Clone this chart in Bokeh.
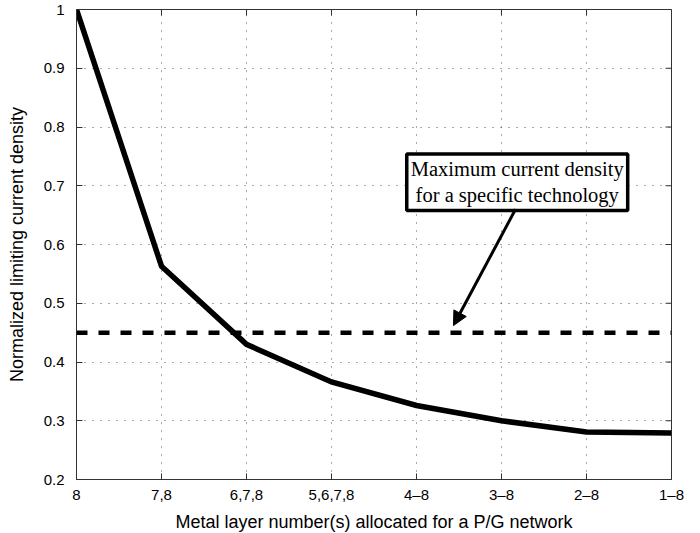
import math
from bokeh.plotting import figure
from bokeh.models import (Range1d, FixedTicker, Span, Label, Arrow, NormalHead,
                          ColumnDataSource)
from bokeh.embed import file_html
from bokeh.resources import INLINE

# Metal layer allocations (x categories) and normalized limiting current density
layer_labels = ["8", "7,8", "6,7,8", "5,6,7,8", "4\u20138", "3\u20138", "2\u20138", "1\u20138"]
density = [1.0, 0.563, 0.430, 0.366, 0.326, 0.300, 0.281, 0.279]
max_density = 0.45
y_ticks = [0.2, 0.3, 0.4, 0.5, 0.6, 0.7, 0.8, 0.9, 1.0]
y_tick_labels = ["0.2", "0.3", "0.4", "0.5", "0.6", "0.7", "0.8", "0.9", "1"]

positions = list(range(len(layer_labels)))
y_lo, y_hi = y_ticks[0], y_ticks[-1]
src = ColumnDataSource(dict(x=positions, y=density))

p = figure(width=700, height=533, output_backend="svg", toolbar_location=None,
           x_range=Range1d(positions[0], positions[-1]), y_range=Range1d(y_lo, y_hi),
           frame_width=595, frame_height=470,
           min_border_left=76, min_border_right=29, min_border_top=9, min_border_bottom=54)

p.outline_line_color = "#333333"
p.outline_line_width = 1
p.background_fill_color = "white"
p.border_fill_color = "white"

sans = "Liberation Sans"

p.xaxis.ticker = FixedTicker(ticks=positions)
p.xaxis.major_label_overrides = {i: lab for i, lab in zip(positions, layer_labels)}
p.yaxis.ticker = FixedTicker(ticks=y_ticks)
p.yaxis.major_label_overrides = {t: lab for t, lab in zip(y_ticks, y_tick_labels)}

p.xaxis.axis_label = "Metal layer number(s) allocated for a P/G network"
p.yaxis.axis_label = "Normalized limiting current density"

for ax in (p.xaxis, p.yaxis):
    ax.axis_line_color = "#333333"
    ax.major_tick_in = 6
    ax.major_tick_out = 0
    ax.minor_tick_line_color = None
    ax.major_tick_line_color = "#333333"
    ax.major_label_text_font = sans
    ax.major_label_text_font_size = "15px"
    ax.major_label_text_color = "black"
    ax.axis_label_text_font = sans
    ax.axis_label_text_font_size = "18px"
    ax.axis_label_text_font_style = "normal"
    ax.axis_label_text_color = "black"

p.xaxis.major_label_standoff = 6
p.xaxis.axis_label_standoff = 6
p.yaxis.major_label_standoff = 12
p.yaxis.axis_label_standoff = 14

# dotted grid
for g in (p.xgrid, p.ygrid):
    g.grid_line_color = "#555555"
    g.grid_line_dash = "1 7"
    g.grid_line_width = 1

# inward tick marks on the top and right edges (outer half is clipped by the frame)
p.scatter(x=positions, y=[y_hi] * len(positions), marker="dash", angle=math.pi / 2,
          size=12, line_color="#333333", line_width=1)
p.scatter(x=[positions[-1]] * len(y_ticks), y=y_ticks, marker="dash",
          size=12, line_color="#333333", line_width=1)

# limiting current density curve
p.line("x", "y", source=src, line_color="black", line_width=5.5, line_join="miter")

# maximum current density for the technology
p.add_layout(Span(location=max_density, dimension="width", line_color="black",
                  line_width=4.5, line_dash="11 11"))

# callout box and arrow
p.add_layout(Label(x=5.185, y=0.706, text="Maximum current density\nfor a specific technology",
                   text_align="center", text_baseline="middle",
                   text_font="Liberation Serif", text_font_size="20.5px", text_color="black",
                   background_fill_color="white", border_line_color="black",
                   border_line_width=3.5, padding=4))
p.add_layout(Arrow(x_start=5.165, y_start=0.660, x_end=4.435, y_end=0.462,
                   line_color="black", line_width=3,
                   end=NormalHead(size=14, fill_color="black", line_color="black", line_width=1)))

open("out.html", "w").write(file_html(p, INLINE))
